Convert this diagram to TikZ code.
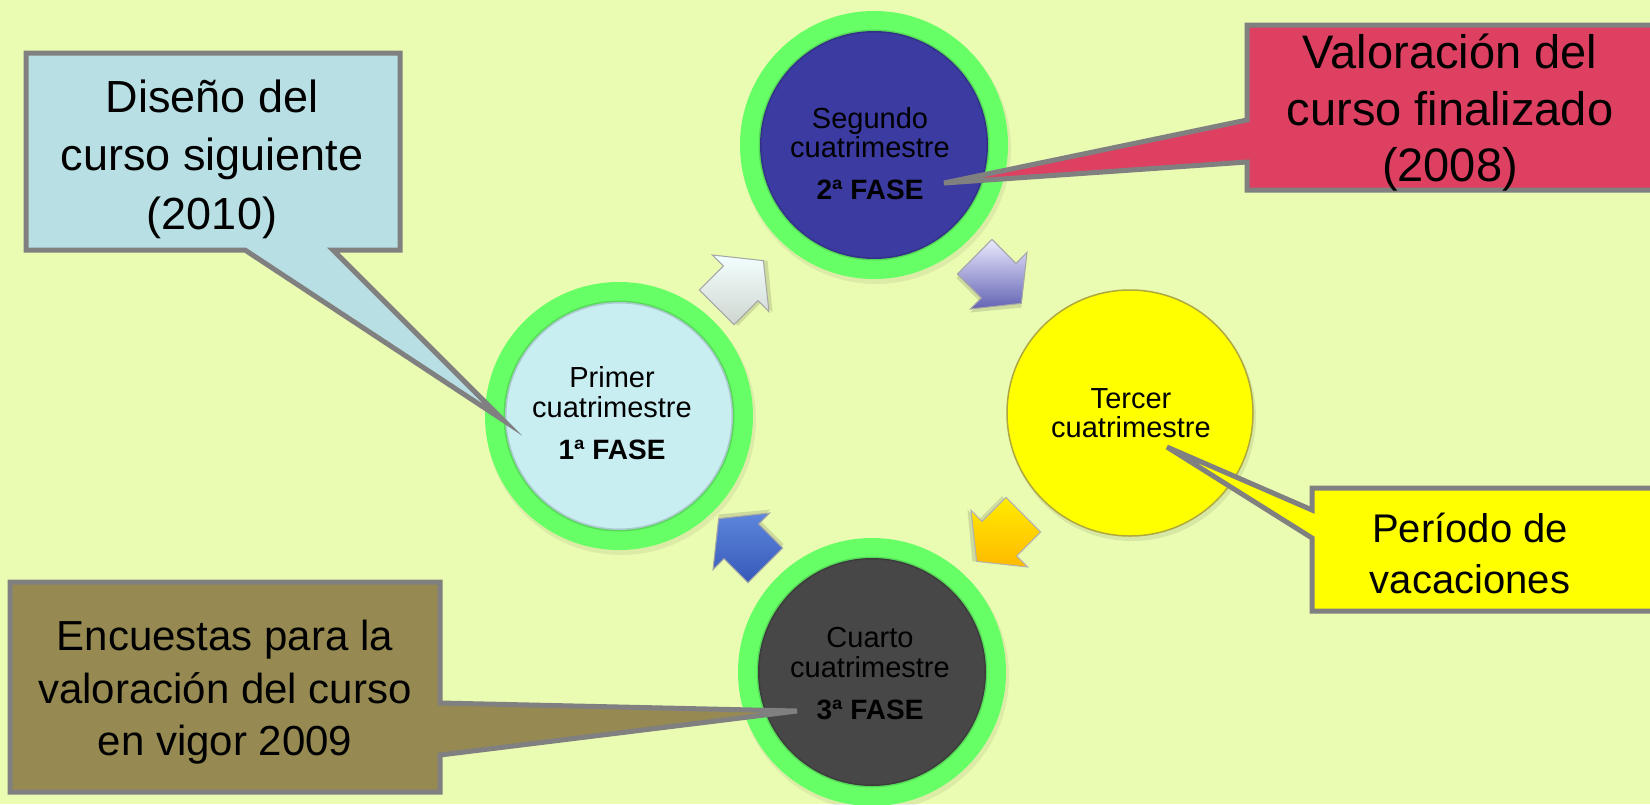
\documentclass[tikz,border=0pt]{standalone}
\usepackage{fontspec}
\setmainfont{Liberation Sans}
\usetikzlibrary{calc}
\definecolor{bg}{HTML}{EAFBB2}
\definecolor{ring}{HTML}{66FF66}
\definecolor{segc}{HTML}{3B3BA1}
\definecolor{primc}{HTML}{C8EEF2}
\definecolor{cuac}{HTML}{474747}
\definecolor{terc}{HTML}{FFFF00}
\definecolor{disc}{HTML}{B8DFE3}
\definecolor{valc}{HTML}{DE4062}
\definecolor{perc}{HTML}{FFFF00}
\definecolor{encc}{HTML}{968A52}
\definecolor{callb}{HTML}{808080}
\definecolor{blueA}{HTML}{5E86DC}
\definecolor{blueB}{HTML}{3559B8}
\tikzset{
  pics/fatarrow/.style={code={
    \fill[black,opacity=0.12] (-31,-22) -- (3,-22) -- (3,-38) -- (36,3) -- (3,43) -- (3,28) -- (-31,28) -- cycle;
    \draw[#1] (-33,-24.5) -- (1,-24.5) -- (1,-40) -- (33,0) -- (1,40) -- (1,24.5) -- (-33,24.5) -- cycle;
  }}
}
\begin{document}
\begin{tikzpicture}[x=1pt,y=-1pt,
  ringc/.style={circle, fill=ring, minimum size=268pt, inner sep=0pt},
  innerc/.style={circle, minimum size=228pt, inner sep=0pt, draw=black, draw opacity=0.15, line width=3pt},
  lbl/.style={anchor=base, inner sep=0pt, font=\fontsize{29}{29}\selectfont},
  lblb/.style={anchor=base, inner sep=0pt, font=\fontsize{28}{28}\selectfont\bfseries},
  callout/.style={draw=callb, line width=5pt, line join=miter},
  bigt/.style={anchor=base, inner sep=0pt},
  arrA/.style={draw=black!35, line width=1pt, top color=white!95!cyan, bottom color=cyan!15!green!8!gray!35!white, shading angle=0},
  arrB/.style={draw=black!35, line width=1pt, top color=white!92!blue, bottom color=segc!80!white, shading angle=0},
  arrC/.style={draw=black!30, line width=1pt, top color=yellow!85!orange, bottom color=orange!55!yellow, shading angle=0},
  arrD/.style={draw=black!35, line width=1pt, top color=blueA, bottom color=blueB, shading angle=0},
]
\useasboundingbox (0,0) rectangle (1650,804);
\fill[bg] (0,0) rectangle (1650,804);

% shadows
\foreach \a/\b in {874/145,619/416,872/672}{
  \fill[black,opacity=0.06] (\a+2,\b+4) circle[radius=135];
}
\fill[black,opacity=0.08] (1132,417) circle[radius=124];

% circles
\node[ringc] (segR) at (874,145) {};
\node[innerc, fill=segc] (seg) at (874,145) {};
\node[ringc] (priR) at (619,416) {};
\node[innerc, fill=primc] (pri) at (619,416) {};
\node[ringc] (cuaR) at (872,672) {};
\node[innerc, fill=cuac] (cua) at (872,672) {};
\node[circle, fill=terc, draw=black!20!yellow!80!black, line width=1.5pt, minimum size=246pt, inner sep=0pt] (ter) at (1130,413) {};

% arrows
\pic[rotate=45] at (740,284) {fatarrow=arrA};
\pic[rotate=-45] at (998,280) {fatarrow=arrB};
\pic[rotate=-135] at (1000,538) {fatarrow=arrC};
\pic[rotate=135] at (742,542) {fatarrow=arrD};

% circle labels
\node[lbl] (seg1) at (870,128) {Segundo};
\node[lbl] (seg2) at (870,157) {cuatrimestre};
\node[lblb] (seg3) at (870,199) {2ª FASE};
\node[lbl] (pri1) at (612,387) {Primer};
\node[lbl] (pri2) at (612,417) {cuatrimestre};
\node[lblb] (pri3) at (612,459) {1ª FASE};
\node[lbl] (cua1) at (870,647) {Cuarto};
\node[lbl] (cua2) at (870,677) {cuatrimestre};
\node[lblb] (cua3) at (870,719) {3ª FASE};
\node[lbl] (ter1) at (1131,408) {Tercer};
\node[lbl] (ter2) at (1131,437) {cuatrimestre};

% callouts
\draw[callout, fill=disc] (26,53) -- (400,53) -- (400,250) -- (333,250) -- (503,420) -- (245,250) -- (26,250) -- cycle;
\draw[callout, fill=valc] (1247,25) -- (1665,25) -- (1665,190) -- (1247,190) -- (1247,162) -- (944,183) -- (1247,120) -- cycle;
\draw[callout, fill=perc] (1312,488) -- (1665,488) -- (1665,611) -- (1312,611) -- (1312,538) -- (1167,447) -- (1312,510) -- cycle;
\draw[callout, fill=encc] (10,582) -- (440,582) -- (440,703) -- (797,711) -- (440,755) -- (440,792) -- (10,792) -- cycle;

% callout texts
\begin{scope}[every node/.style={bigt}]
\node[font=\fontsize{45}{45}\selectfont] (dis1) at (212,112) {Diseño del};
\node[font=\fontsize{45}{45}\selectfont] (dis2) at (212,170) {curso siguiente};
\node[font=\fontsize{45}{45}\selectfont] (dis3) at (212,229) {(2010)};
\node[font=\fontsize{47}{47}\selectfont] (val1) at (1450,68) {Valoración del};
\node[font=\fontsize{47}{47}\selectfont] (val2) at (1450,125) {curso finalizado};
\node[font=\fontsize{47}{47}\selectfont] (val3) at (1450,181) {(2008)};
\node[font=\fontsize{40}{40}\selectfont] (per1) at (1470,542) {Período de};
\node[font=\fontsize{40}{40}\selectfont] (per2) at (1470,593) {vacaciones};
\node[font=\fontsize{42}{42}\selectfont] (enc1) at (225,650) {Encuestas para la};
\node[font=\fontsize{42}{42}\selectfont] (enc2) at (225,703) {valoración del curso};
\node[font=\fontsize{42}{42}\selectfont] (enc3) at (225,755) {en vigor 2009};
\end{scope}
\end{tikzpicture}
\end{document}
